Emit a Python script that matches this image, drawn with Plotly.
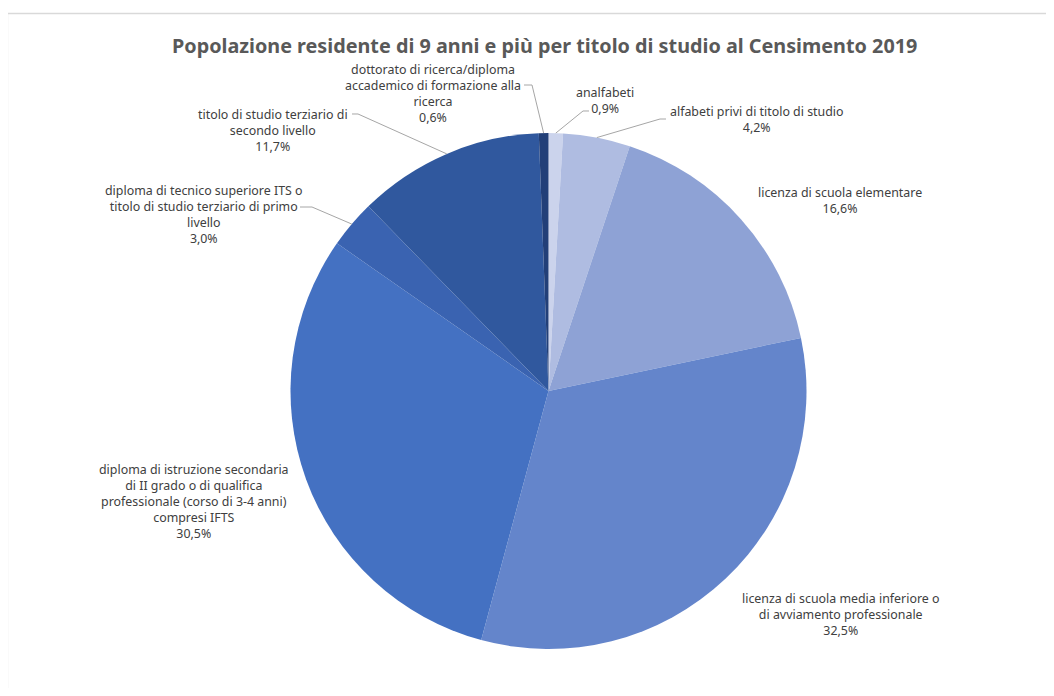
import math
import plotly.graph_objects as go

# ---- data ----
categories = [
    "analfabeti",
    "alfabeti privi di titolo di studio",
    "licenza di scuola elementare",
    "licenza di scuola media inferiore o di avviamento professionale",
    "diploma di istruzione secondaria di II grado o di qualifica professionale (corso di 3-4 anni) compresi IFTS",
    "diploma di tecnico superiore ITS o titolo di studio terziario di primo livello",
    "titolo di studio terziario di secondo livello",
    "dottorato di ricerca/diploma accademico di formazione alla ricerca",
]
label_lines = [
    "analfabeti",
    "alfabeti privi di titolo di studio",
    "licenza di scuola elementare",
    "licenza di scuola media inferiore o<br>di avviamento professionale",
    "diploma di istruzione secondaria<br>di II grado o di qualifica<br>professionale (corso di 3-4 anni)<br>compresi IFTS",
    "diploma di tecnico superiore ITS o<br>titolo di studio terziario di primo<br>livello",
    "titolo di studio terziario di<br>secondo livello",
    "dottorato di ricerca/diploma<br>accademico di formazione alla<br>ricerca",
]
values = [0.9, 4.2, 16.6, 32.5, 30.5, 3.0, 11.7, 0.6]
title = "Popolazione residente di 9 anni e più per titolo di studio al Censimento 2019"

colors = ["#CBD3EC", "#AFBCE1", "#8EA2D5", "#6485CB", "#4471C2",
          "#3A63B1", "#30589E", "#223F78"]

# ---- layout helpers (pixels in the 1054x696 window) ----
OFF = 8                      # default page body margin
W, H = 1054 - 2 * OFF, 696 - 2 * OFF
CX, CY, R = 548.5, 391, 258
FONT = "Noto Sans, sans-serif"
TXT = "#404040"

def fx(x):
    return (x - OFF) / W

def fy(y):
    return 1 - (y - OFF) / H

# label block centres and leader elbows/ends (window pixels)
label_pos = [(605, 101), (757, 120), (840, 200), (840, 614),
             (194, 501), (204, 214), (273, 130), (433, 93)]
leaders = {0: [(583, 111), (589, 111)],
           1: [(660, 119), (666, 119)],
           5: [(312, 207), (300, 207)],
           6: [(358, 114), (352, 114)],
           7: [(532, 85), (524, 85)]}

fig = go.Figure(go.Pie(
    labels=categories,
    values=values,
    sort=False,
    direction="clockwise",
    rotation=0,
    marker=dict(colors=colors, line=dict(width=0)),
    textinfo="none",
    hoverinfo="label+percent",
    showlegend=False,
    domain=dict(x=[fx(CX - R), fx(CX + R)], y=[fy(CY + R), fy(CY - R)]),
))

annotations = []
shapes = []
total = sum(values)
cum = 0.0
for i, v in enumerate(values):
    mid = (cum + v / 2) / total * 2 * math.pi
    cum += v
    pct = f"{v:.1f}".replace(".", ",") + "%"
    lx, ly = label_pos[i]
    annotations.append(dict(
        x=fx(lx), y=fy(ly), xref="paper", yref="paper",
        text=f"{label_lines[i]}<br>{pct}", showarrow=False,
        xanchor="center", yanchor="middle", align="center",
        font=dict(family=FONT, size=12.4, color=TXT),
    ))
    if i in leaders:
        ex = CX + R * math.sin(mid)
        ey = CY - R * math.cos(mid)
        pts = [(ex, ey)] + leaders[i]
        path = "M " + " L ".join(f"{fx(px):.5f},{fy(py):.5f}" for px, py in pts)
        shapes.append(dict(type="path", path=path, xref="paper", yref="paper",
                           line=dict(color="#A6A6A6", width=1)))

annotations.append(dict(
    x=fx(544), y=fy(45), xref="paper", yref="paper", text=f"<b>{title}</b>",
    showarrow=False, xanchor="center", yanchor="middle",
    font=dict(family=FONT, size=19.8, color="#595959"),
))

shapes.append(dict(type="rect", xref="paper", yref="paper",
                   x0=fx(7.5), y0=fy(720), x1=fx(1080), y1=fy(13.5),
                   line=dict(color="#D9D9D9", width=1.3), layer="below"))

fig.update_layout(
    width=W, height=H,
    margin=dict(l=0, r=0, t=0, b=0),
    paper_bgcolor="white", plot_bgcolor="white",
    annotations=annotations, shapes=shapes,
    font=dict(family=FONT),
)

fig.write_html("out.html")
